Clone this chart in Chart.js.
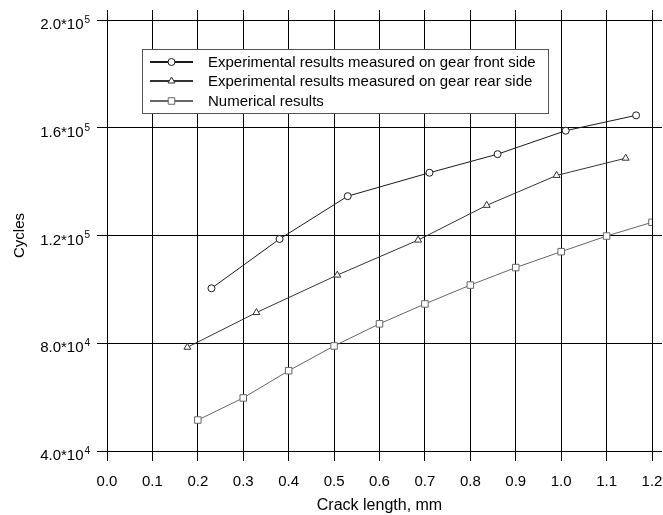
<!DOCTYPE html>
<html>
<head>
<meta charset="utf-8">
<script src="https://cdn.jsdelivr.net/npm/chart.js@4.4.1/dist/chart.umd.min.js"></script>
<style>
  html, body { margin: 0; padding: 0; background: #fff; }
  canvas { display: block; }
</style>
</head>
<body>
<canvas id="chart" width="663" height="515"></canvas>
<script>
// Dane
const seriesNames = [
    'Experimental results measured on gear front side',
    'Experimental results measured on gear rear side',
    'Numerical results'
];

const frontX = [0.23, 0.38, 0.53, 0.71, 0.86, 1.01, 1.165];
const frontY = [100400, 118700, 134600, 143300, 150200, 158900, 164600];

const rearX = [0.177, 0.329, 0.507, 0.685, 0.836, 0.99, 1.142];
const rearY = [78500, 91400, 105300, 118300, 131200, 142300, 148700];

const numX = [0.2, 0.3, 0.4, 0.5, 0.6, 0.7, 0.8, 0.9, 1.0, 1.1, 1.2];
const numY = [51500, 59700, 69800, 79000, 87200, 94600, 101600, 108100, 114000, 119800, 124900];

// Etykiety osi Y: mantysa + wykładnik (indeks górny)
const yTickValues = [40000, 80000, 120000, 160000, 200000];
const yTickMantissa = ['4.0*10', '8.0*10', '1.2*10', '1.6*10', '2.0*10'];
const yTickExponent = ['4', '4', '5', '5', '5'];

const FONT = 'Liberation Sans, Arial, Helvetica, sans-serif';

function punkty(xs, ys) {
    return xs.map((x, i) => ({ x: x, y: ys[i] }));
}

/**
 * Rysuje znacznik (w legendzie) tak jak Chart.js
 */
function rysujZnacznik(ctx, styl, x, y, r) {
    ctx.beginPath();
    if (styl === 'circle') {
        ctx.arc(x, y, r, 0, Math.PI * 2);
    } else if (styl === 'triangle') {
        let rad = 0;
        ctx.moveTo(x + Math.sin(rad) * r, y - Math.cos(rad) * r);
        rad += Math.PI * 2 / 3;
        ctx.lineTo(x + Math.sin(rad) * r, y - Math.cos(rad) * r);
        rad += Math.PI * 2 / 3;
        ctx.lineTo(x + Math.sin(rad) * r, y - Math.cos(rad) * r);
        ctx.closePath();
    } else {
        const s = Math.SQRT1_2 * r;
        ctx.rect(x - s, y - s, 2 * s, 2 * s);
    }
    ctx.fill();
    ctx.stroke();
}

// Legenda w ramce wewnątrz obszaru wykresu
const legendaWRamce = {
    id: 'legendaWRamce',
    beforeDatasetsDraw(chart) {
        const { ctx, chartArea } = chart;
        const left = chartArea.left + 35;
        const top = chartArea.top + 29;
        const w = 406, h = 64;
        ctx.save();
        ctx.fillStyle = '#fff';
        ctx.fillRect(left, top, w, h);
        ctx.strokeStyle = '#555';
        ctx.lineWidth = 1;
        ctx.strokeRect(left + 0.5, top + 0.5, w, h);

        chart.data.datasets.forEach((ds, i) => {
            const y = Math.round(top + 12.5 + i * 19.5);
            ctx.strokeStyle = ds.borderColor;
            ctx.lineWidth = 2;
            ctx.beginPath();
            ctx.moveTo(left + 8, y);
            ctx.lineTo(left + 51, y);
            ctx.stroke();

            ctx.fillStyle = '#fff';
            ctx.strokeStyle = ds.pointBorderColor;
            ctx.lineWidth = 1;
            rysujZnacznik(ctx, ds.pointStyle, left + 29.5, y, ds.pointRadius);

            ctx.fillStyle = '#000';
            ctx.font = '15px ' + FONT;
            ctx.textBaseline = 'middle';
            ctx.textAlign = 'left';
            ctx.fillText(ds.label, left + 66, y + 0.5);
        });
        ctx.restore();
    }
};

// Etykiety osi Y z wykładnikiem w indeksie górnym
const etykietyPotegi = {
    id: 'etykietyPotegi',
    afterDraw(chart) {
        const { ctx } = chart;
        const skala = chart.scales.y;
        const xPrawy = skala.right - 10 - 13.5;
        ctx.save();
        ctx.fillStyle = '#000';
        ctx.textBaseline = 'middle';
        skala.ticks.forEach(t => {
            const i = yTickValues.indexOf(t.value);
            if (i < 0) return;
            const py = skala.getPixelForValue(t.value);
            ctx.font = '15px ' + FONT;
            ctx.textAlign = 'right';
            ctx.fillText(yTickMantissa[i], xPrawy, py + 5);
            ctx.font = '10px ' + FONT;
            ctx.textAlign = 'left';
            ctx.fillText(yTickExponent[i], xPrawy + 1, py);
        });
        ctx.restore();
    }
};

const siatka = { color: '#000', lineWidth: 1, tickLength: 10 };

new Chart(document.getElementById('chart'), {
    type: 'line',
    data: {
        datasets: [
            {
                label: seriesNames[0],
                data: punkty(frontX, frontY),
                borderColor: '#1a1a1a',
                borderWidth: 1,
                pointStyle: 'circle',
                pointRadius: 3.5,
                pointBorderColor: '#1a1a1a',
                pointBackgroundColor: '#fff',
                pointBorderWidth: 1
            },
            {
                label: seriesNames[1],
                data: punkty(rearX, rearY),
                borderColor: '#333',
                borderWidth: 1,
                pointStyle: 'triangle',
                pointRadius: 4,
                pointBorderColor: '#333',
                pointBackgroundColor: '#fff',
                pointBorderWidth: 1
            },
            {
                label: seriesNames[2],
                data: punkty(numX, numY),
                borderColor: '#666',
                borderWidth: 1,
                pointStyle: 'rect',
                pointRadius: 4.6,
                pointBorderColor: '#666',
                pointBackgroundColor: '#fff',
                pointBorderWidth: 1
            }
        ]
    },
    options: {
        responsive: false,
        animation: false,
        devicePixelRatio: 1,
        layout: { padding: 0 },
        plugins: {
            legend: { display: false },
            tooltip: { enabled: false }
        },
        scales: {
            x: {
                type: 'linear',
                position: 'bottom',
                min: 0,
                max: 1.2,
                ticks: {
                    stepSize: 0.1,
                    padding: 12,
                    color: '#000',
                    font: { family: FONT, size: 15 },
                    callback: v => v.toFixed(1)
                },
                grid: siatka,
                border: { color: '#000', width: 1 },
                title: {
                    display: true,
                    text: 'Crack length, mm',
                    color: '#000',
                    font: { family: FONT, size: 16 },
                    padding: { top: 0, bottom: 0 }
                },
                afterFit: s => { s.height = 64; s.paddingLeft = 0; s.paddingRight = 0; }
            },
            x2: {
                type: 'linear',
                axis: 'x',
                position: 'top',
                min: 0,
                max: 1.2,
                ticks: { display: false, stepSize: 0.1 },
                grid: { color: '#000', lineWidth: 1, tickLength: 10, drawOnChartArea: false },
                border: { color: '#000', width: 1 },
                afterFit: s => { s.height = 20; s.paddingLeft = 0; s.paddingRight = 0; }
            },
            y: {
                type: 'linear',
                position: 'left',
                min: 40000,
                max: 200000,
                ticks: { stepSize: 40000, display: false },
                grid: siatka,
                border: { color: '#000', width: 1 },
                title: {
                    display: true,
                    text: 'Cycles',
                    color: '#000',
                    font: { family: FONT, size: 15 },
                    padding: { top: 11, bottom: 0 }
                },
                afterFit: s => { s.width = 107; s.paddingTop = 0; s.paddingBottom = 0; }
            },
            y2: {
                type: 'linear',
                axis: 'y',
                position: 'right',
                min: 40000,
                max: 200000,
                ticks: { display: false, stepSize: 40000 },
                grid: { color: '#000', lineWidth: 1, tickLength: 10, drawOnChartArea: false },
                border: { color: '#000', width: 1 },
                afterFit: s => { s.width = 11; }
            }
        }
    },
    plugins: [legendaWRamce, etykietyPotegi]
});
</script>
</body>
</html>
